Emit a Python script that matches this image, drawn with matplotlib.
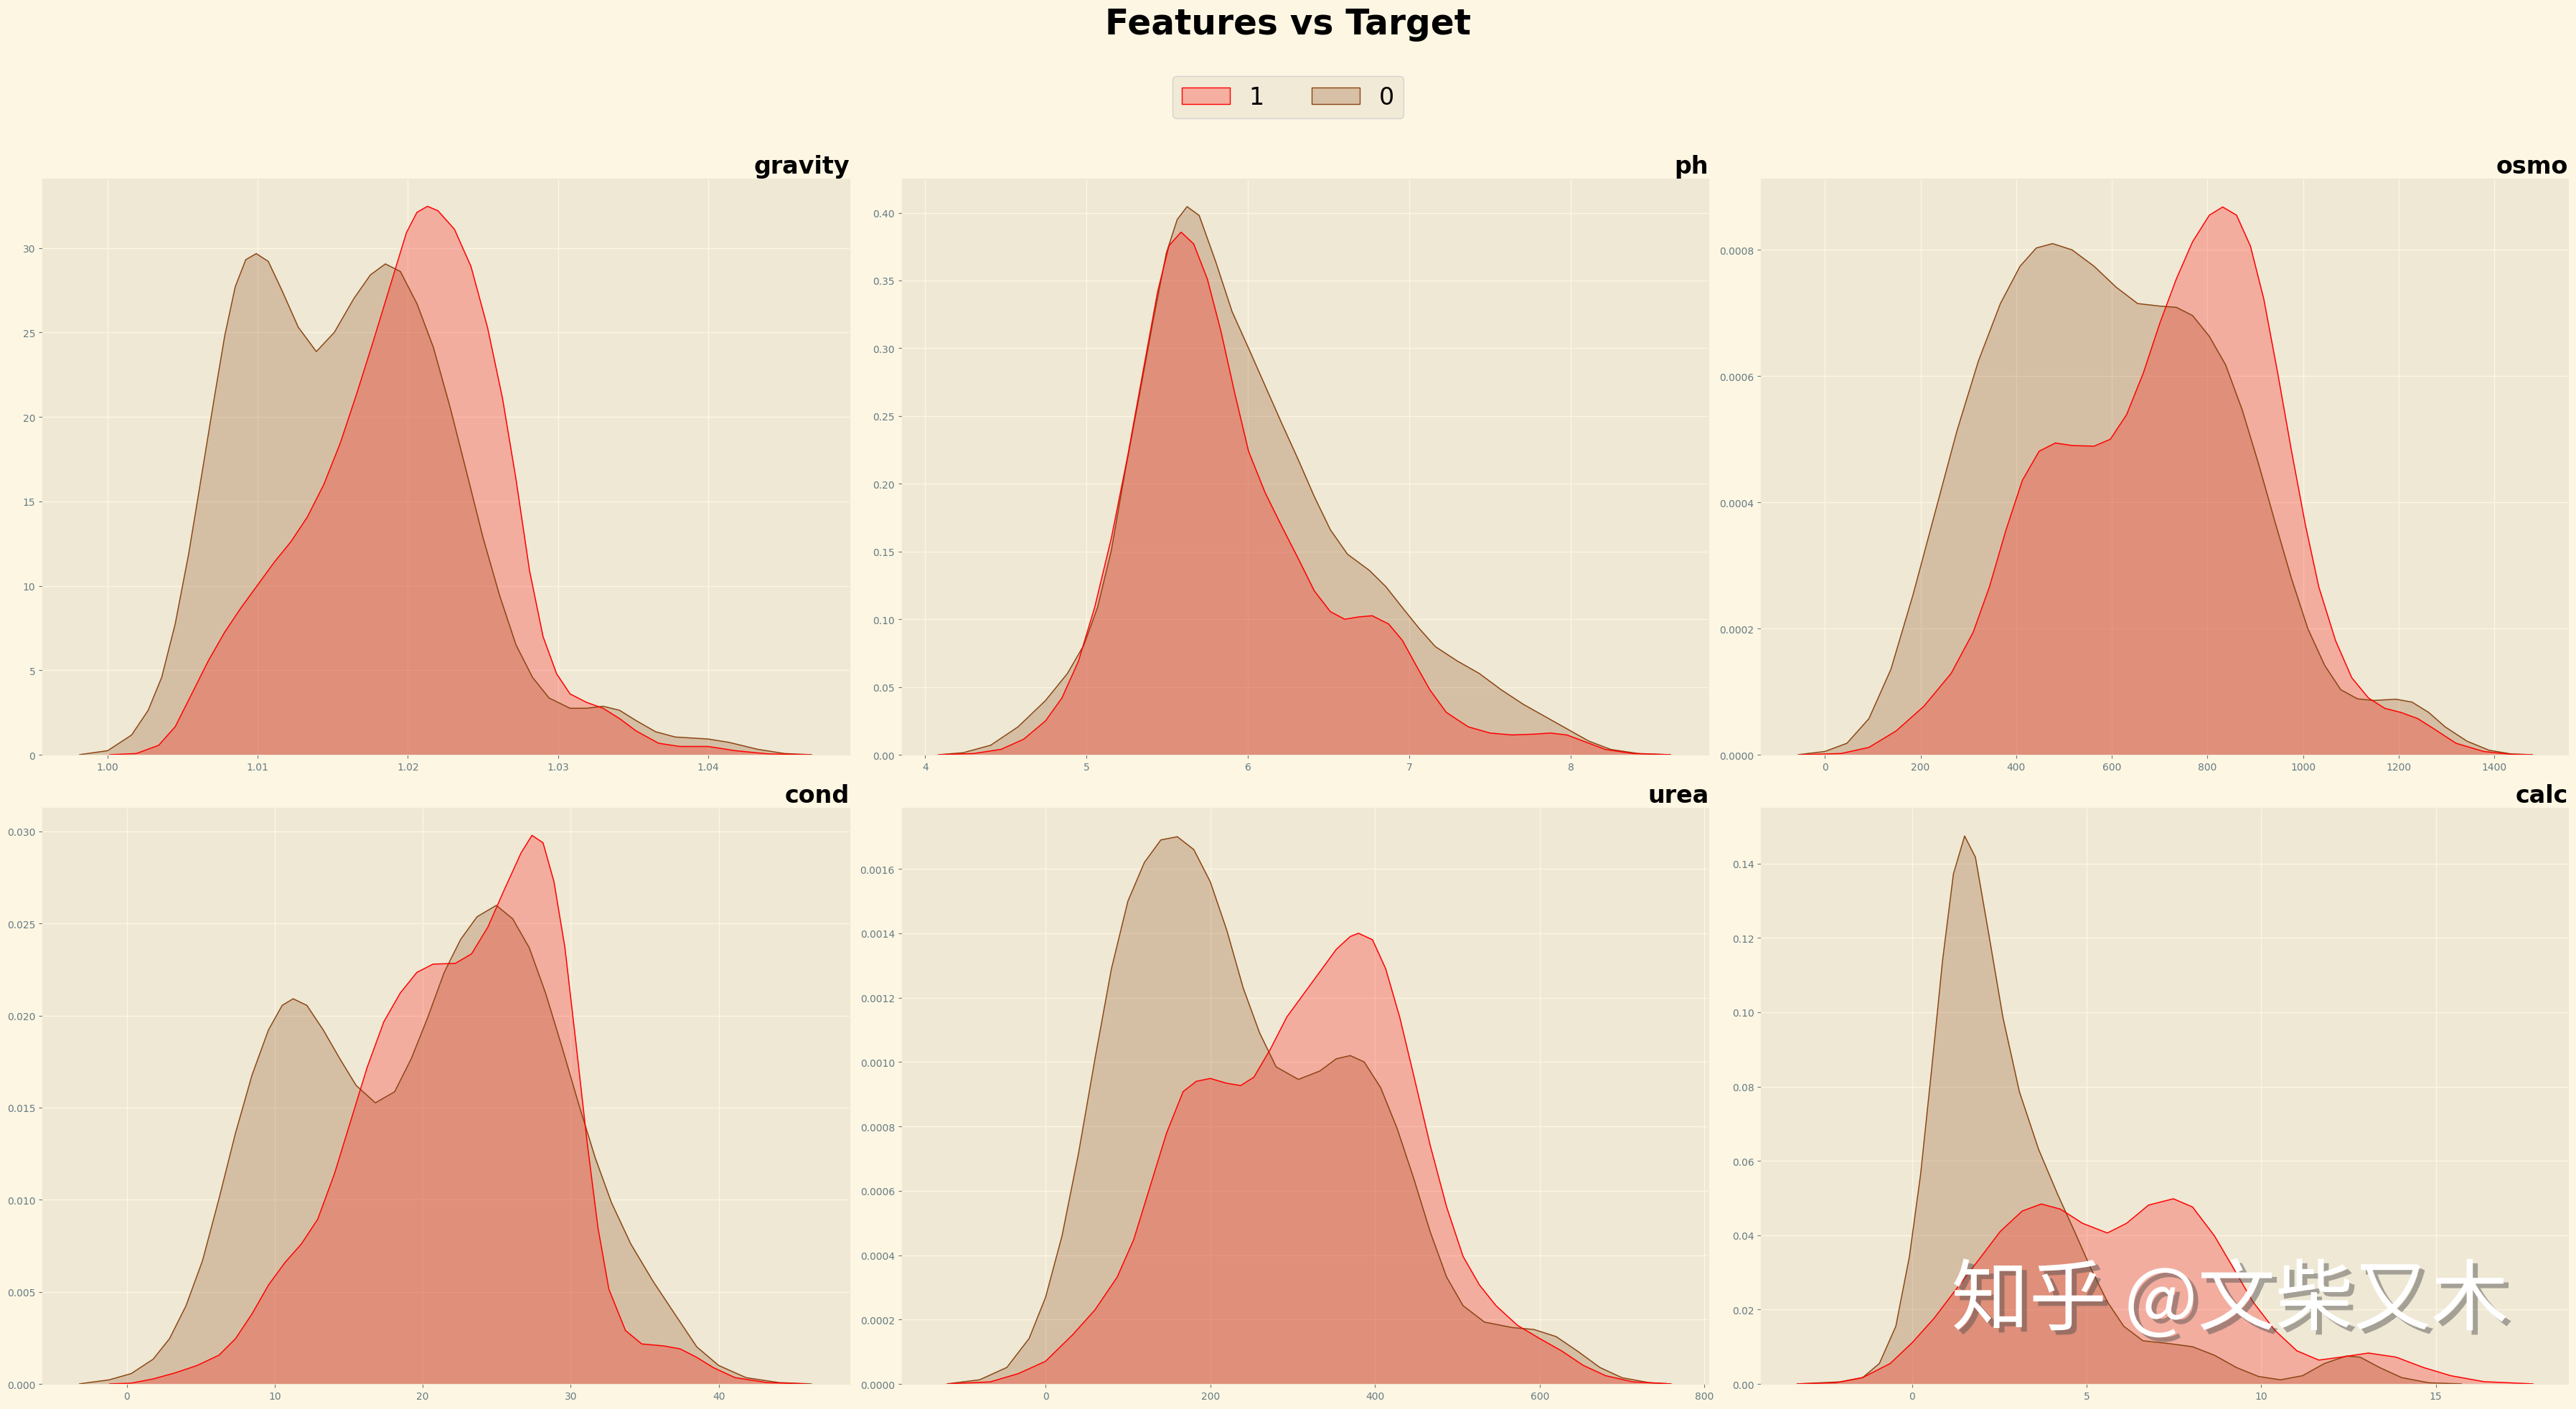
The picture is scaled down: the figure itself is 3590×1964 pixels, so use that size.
import matplotlib.pyplot as plt
from matplotlib import patheffects
from matplotlib.patches import Patch

plt.style.use('Solarize_Light2')

features = ['gravity', 'ph', 'osmo', 'cond', 'urea', 'calc']
labels = ['1', '0']

# density curves (class 0 = brown, class 1 = red)
gravity_x0 = [0.9981, 1.0000, 1.0016, 1.0027, 1.0036, 1.0045, 1.0054, 1.0063, 1.0071, 1.0078, 1.0085,
              1.0092, 1.0099, 1.0107, 1.0116, 1.0127, 1.0139, 1.0151, 1.0164, 1.0175, 1.0185, 1.0195,
              1.0206, 1.0217, 1.0228, 1.0239, 1.0250, 1.0261, 1.0272, 1.0283, 1.0294, 1.0308, 1.0319,
              1.0330, 1.0341, 1.0352, 1.0365, 1.0378, 1.0400, 1.0414, 1.0433, 1.0451, 1.0469]
gravity_y0 = [0, 0.24, 1.17, 2.63, 4.58, 7.74, 11.9, 16.75, 21.1, 24.8, 27.7,
              29.3, 29.66, 29.2, 27.5, 25.3, 23.86, 25.0, 27.0, 28.4, 29.05, 28.6,
              26.7, 24.1, 20.6, 16.75, 12.86, 9.45, 6.5, 4.58, 3.36, 2.75, 2.75,
              2.87, 2.63, 2.02, 1.36, 1.05, 0.93, 0.73, 0.32, 0.07, 0]
gravity_x1 = [1.0001, 1.0019, 1.0034, 1.0045, 1.0056, 1.0067, 1.0078, 1.0089, 1.0100, 1.0111, 1.0122,
              1.0133, 1.0144, 1.0155, 1.0166, 1.0177, 1.0188, 1.0199, 1.0206, 1.0213, 1.0220, 1.0231,
              1.0242, 1.0253, 1.0263, 1.0272, 1.0281, 1.0290, 1.0299, 1.0308, 1.0319, 1.0330, 1.0341,
              1.0352, 1.0367, 1.0381, 1.0400, 1.0418, 1.0440, 1.0469]
gravity_y1 = [0, 0.07, 0.56, 1.66, 3.6, 5.55, 7.26, 8.72, 10.06, 11.4, 12.6,
              14.07, 16.0, 18.46, 21.4, 24.5, 27.7, 30.9, 32.1, 32.46, 32.2, 31.1,
              28.9, 25.3, 21.1, 16.3, 10.9, 7.0, 4.8, 3.6, 3.1, 2.75, 2.14,
              1.41, 0.68, 0.49, 0.49, 0.24, 0.05, 0]

ph_x0 = [4.08, 4.235, 4.405, 4.575, 4.745, 4.881, 4.983, 5.068, 5.153, 5.238, 5.323, 5.408, 5.493,
         5.561, 5.622, 5.697, 5.799, 5.901, 6.003, 6.105, 6.207, 6.31, 6.41, 6.51, 6.616, 6.752,
         6.854, 6.956, 7.058, 7.16, 7.296, 7.432, 7.568, 7.704, 7.84, 7.976, 8.112, 8.248, 8.418, 8.62]
ph_y0 = [0, 0.0015, 0.007, 0.0206, 0.040, 0.060, 0.081, 0.109, 0.151, 0.209, 0.263, 0.318, 0.370,
         0.395, 0.4045, 0.398, 0.364, 0.327, 0.300, 0.2725, 0.245, 0.218, 0.1906, 0.166, 0.148, 0.136,
         0.124, 0.1086, 0.0935, 0.0798, 0.0692, 0.060, 0.048, 0.0373, 0.0282, 0.0191, 0.010, 0.0039,
         0.0009, 0]
ph_x1 = [4.08, 4.30, 4.47, 4.61, 4.745, 4.847, 4.949, 5.05, 5.153, 5.255, 5.357, 5.44, 5.51, 5.585,
         5.663, 5.748, 5.833, 5.918, 6.003, 6.105, 6.207, 6.31, 6.41, 6.51, 6.599, 6.684, 6.769,
         6.871, 6.956, 7.041, 7.126, 7.228, 7.364, 7.5, 7.636, 7.772, 7.874, 7.976, 8.078, 8.214,
         8.384, 8.62]
ph_y1 = [0, 0.0009, 0.004, 0.0115, 0.025, 0.042, 0.069, 0.109, 0.160, 0.221, 0.288, 0.342, 0.3757,
         0.3857, 0.377, 0.351, 0.312, 0.2665, 0.224, 0.1936, 0.169, 0.145, 0.121, 0.1056, 0.100,
         0.1017, 0.1026, 0.0965, 0.0844, 0.066, 0.048, 0.0313, 0.0206, 0.016, 0.0146, 0.0152, 0.016,
         0.0146, 0.010, 0.0039, 0.0009, 0]

osmo_x0 = [-57, 0, 46, 92, 138, 184, 230, 276, 321, 367, 408, 442, 476, 517, 563, 609, 654, 700,
           735, 769, 804, 838, 873, 907, 941, 976, 1010, 1045, 1079, 1114, 1148, 1194, 1228, 1263,
           1297, 1343, 1389, 1435, 1481]
osmo_y0 = [0, 0.0000052, 0.0000182, 0.0000573, 0.0001355, 0.000253, 0.000383, 0.000513, 0.000624,
           0.000715, 0.000774, 0.000803, 0.00081, 0.0008, 0.000774, 0.000741, 0.000715, 0.000711,
           0.000709, 0.000696, 0.000663, 0.000618, 0.000546, 0.000461, 0.00037, 0.000279, 0.0002,
           0.000142, 0.000103, 0.0000886, 0.000086, 0.000088, 0.0000834, 0.000067, 0.0000443,
           0.0000215, 0.0000072, 0.0000013, 0]
osmo_x1 = [-52, 34, 92, 149, 207, 264, 310, 344, 379, 413, 448, 482, 517, 563, 597, 631, 666, 700,
           735, 769, 804, 832, 861, 890, 918, 947, 976, 1005, 1033, 1068, 1102, 1137, 1171, 1205,
           1240, 1274, 1320, 1378, 1435, 1481]
osmo_y1 = [0, 0.000002, 0.0000117, 0.0000378, 0.0000769, 0.000129, 0.000194, 0.000266, 0.000357,
           0.000435, 0.000481, 0.000494, 0.00049, 0.000489, 0.0005, 0.000539, 0.000605, 0.000683,
           0.000754, 0.000813, 0.000855, 0.000868, 0.000855, 0.000806, 0.000722, 0.000605, 0.000481,
           0.000364, 0.000266, 0.000181, 0.000122, 0.0000899, 0.0000736, 0.000067, 0.0000573,
           0.000041, 0.0000182, 0.0000052, 0.0000007, 0]

cond_x0 = [-3.23, -1.19, 0.30, 1.78, 2.89, 4.0, 5.12, 6.23, 7.35, 8.46, 9.57, 10.5, 11.24, 12.17,
           13.28, 14.4, 15.5, 16.8, 18.1, 19.22, 20.33, 21.45, 22.56, 23.67, 24.97, 26.08, 27.2,
           28.3, 29.4, 30.54, 31.65, 32.76, 34.06, 35.55, 37.03, 38.52, 40.0, 41.85, 44.08, 46.3]
cond_y0 = [0, 0.00022, 0.00056, 0.00134, 0.00246, 0.00424, 0.0067, 0.01005, 0.01363, 0.01676,
           0.01921, 0.02055, 0.02091, 0.02055, 0.01921, 0.01765, 0.0162, 0.01526, 0.01586, 0.01765,
           0.01988, 0.02234, 0.02413, 0.02536, 0.02598, 0.02525, 0.02368, 0.02122, 0.01832, 0.01519,
           0.01229, 0.00983, 0.0076, 0.00559, 0.0038, 0.00201, 0.001, 0.00034, 0.00007, 0]
cond_x1 = [-1.19, 0.3, 1.78, 3.27, 4.75, 6.23, 7.35, 8.46, 9.57, 10.69, 11.8, 12.9, 14.03, 15.14,
           16.25, 17.37, 18.48, 19.6, 20.7, 22.2, 23.3, 24.4, 25.5, 26.64, 27.38, 28.13, 28.87,
           29.61, 30.35, 31.1, 31.84, 32.58, 33.7, 34.8, 36.3, 37.4, 38.5, 39.63, 41.1, 43.3, 45.9]
cond_y1 = [0, 0.00004, 0.00027, 0.0006, 0.001, 0.00156, 0.00246, 0.0038, 0.00536, 0.00659, 0.0076,
           0.00894, 0.0114, 0.0143, 0.0172, 0.01966, 0.02122, 0.02234, 0.02279, 0.02283, 0.02335,
           0.0248, 0.02681, 0.02882, 0.02978, 0.02938, 0.02726, 0.02368, 0.01854, 0.01318, 0.00849,
           0.00514, 0.0029, 0.00217, 0.00206, 0.0019, 0.00145, 0.00089, 0.00034, 0.00007, 0]

urea_x0 = [-120, -80, -47, -20, 0, 20, 40, 60, 80, 100, 120, 140, 160, 180, 200, 220, 240, 260,
           280, 307, 333, 353, 370, 387, 407, 427, 447, 467, 487, 507, 533, 567, 593, 620, 647,
           673, 700, 733, 760]
urea_y0 = [0, 0.0000128, 0.0000512, 0.000141, 0.000269, 0.00046, 0.000716, 0.00101, 0.00129,
           0.0015, 0.00162, 0.00169, 0.0017, 0.00166, 0.00156, 0.00141, 0.00123, 0.00109, 0.000985,
           0.000946, 0.000972, 0.00101, 0.00102, 0.001, 0.00092, 0.000793, 0.000639, 0.000473,
           0.000332, 0.000243, 0.000192, 0.000175, 0.000169, 0.000147, 0.0001, 0.0000512,
           0.0000192, 0.0000038, 0]
urea_x1 = [-120, -67, -33, 0, 33, 60, 87, 107, 127, 147, 167, 183, 200, 220, 237, 253, 273, 293,
           313, 333, 353, 370, 380, 397, 413, 430, 447, 467, 487, 507, 527, 547, 573, 600, 627,
           653, 680, 713, 760]
urea_y1 = [0, 0.0000064, 0.000032, 0.0000703, 0.000153, 0.00023, 0.000332, 0.000448, 0.000614,
           0.00078, 0.000908, 0.00094, 0.000949, 0.000934, 0.000927, 0.000953, 0.00104, 0.00114,
           0.00121, 0.00128, 0.00135, 0.00139, 0.0014, 0.00138, 0.00129, 0.00114, 0.000959,
           0.000742, 0.00055, 0.000396, 0.000307, 0.000243, 0.000182, 0.000141, 0.000102,
           0.0000575, 0.0000256, 0.0000064, 0]

calc_x0 = [-3.31, -2.05, -1.42, -0.94, -0.47, -0.08, 0.24, 0.55, 0.87, 1.18, 1.5, 1.81, 2.2, 2.6,
           3.07, 3.62, 4.17, 4.65, 5.12, 5.59, 6.06, 6.61, 7.4, 8.03, 8.66, 9.29, 9.92, 10.55,
           11.18, 11.81, 12.44, 12.83, 13.39, 14.02, 14.8, 15.75]
calc_y0 = [0, 0.00055, 0.0017, 0.0055, 0.0155, 0.0343, 0.0564, 0.0841, 0.114, 0.1372, 0.1474,
           0.1417, 0.1206, 0.0985, 0.0786, 0.0631, 0.0509, 0.041, 0.031, 0.0221, 0.0155, 0.0116,
           0.0108, 0.01, 0.0077, 0.0044, 0.002, 0.0011, 0.0022, 0.0055, 0.0075, 0.0072, 0.0044,
           0.0017, 0.0003, 0]
calc_x1 = [-3.31, -2.2, -1.42, -0.63, 0, 0.63, 1.26, 1.89, 2.52, 3.15, 3.7, 4.25, 4.88, 5.59,
           6.14, 6.77, 7.48, 8.03, 8.66, 9.21, 9.76, 10.39, 11.02, 11.65, 12.28, 13.07, 13.86,
           14.65, 15.43, 16.38, 17.8]
calc_y1 = [0, 0.0003, 0.0017, 0.0055, 0.0111, 0.0177, 0.0255, 0.0332, 0.041, 0.0465, 0.0484,
           0.047, 0.0432, 0.0406, 0.0432, 0.0481, 0.0498, 0.0476, 0.0398, 0.031, 0.0221, 0.0144,
           0.0089, 0.0064, 0.0072, 0.0083, 0.0072, 0.0044, 0.0022, 0.0006, 0]

curves = {
    'gravity': (gravity_x0, gravity_y0, gravity_x1, gravity_y1),
    'ph': (ph_x0, ph_y0, ph_x1, ph_y1),
    'osmo': (osmo_x0, osmo_y0, osmo_x1, osmo_y1),
    'cond': (cond_x0, cond_y0, cond_x1, cond_y1),
    'urea': (urea_x0, urea_y0, urea_x1, urea_y1),
    'calc': (calc_x0, calc_y0, calc_x1, calc_y1),
}

limits = {
    'gravity': ((0.99565, 1.0494), (0, 34.1)),
    'ph': ((3.854, 8.854), (0, 0.4252)),
    'osmo': ((-133.6, 1554.5), (0, 0.000913)),
    'cond': ((-5.71, 48.83), (0, 0.03128)),
    'urea': ((-174.7, 805.3), (0, 0.00179)),
    'calc': ((-4.33, 18.79), (0, 0.155)),
}

c0 = 'saddlebrown'
c1 = 'red'

fig, axes = plt.subplots(2, 3, figsize=(35.9, 19.65), dpi=100)
fig.subplots_adjust(left=0.01643, right=0.99694, top=0.8728, bottom=0.01781,
                    wspace=0.0649, hspace=0.092)

for ax, name in zip(axes.flat, features):
    x0, y0, x1, y1 = curves[name]
    ax.fill_between(x0, y0, color=c0, alpha=0.25, lw=0)
    ax.plot(x0, y0, color=c0, lw=1.1)
    ax.fill_between(x1, y1, color=c1, alpha=0.25, lw=0)
    ax.plot(x1, y1, color=c1, lw=1.1)
    ax.set_xlim(*limits[name][0])
    ax.set_ylim(*limits[name][1])
    ax.tick_params(labelsize=10)
    ax.set_title(name, loc='right', fontsize=24, fontweight='bold', color='black')

handles = [Patch(facecolor=c1, edgecolor=c1, alpha=0.25),
           Patch(facecolor=c0, edgecolor=c0, alpha=0.25)]
# make the legend patch edges opaque
handles[0] = Patch(facecolor=(1, 0, 0, 0.25), edgecolor=c1)
handles[1] = Patch(facecolor=(0.545, 0.271, 0.075, 0.25), edgecolor=c0)
fig.legend(handles, labels, loc='center', bbox_to_anchor=(0.5, 0.9305), ncol=2,
           fontsize=24, labelcolor='black')

fig.suptitle('Features vs Target', fontsize=35, fontweight='bold', color='black',
             y=0.995, va='top')

wm = fig.text(0.8657, 0.0758, '知乎 @文柴又木', fontsize=78, color='white',
              ha='center', va='center', family=['Noto Sans CJK SC', 'DejaVu Sans'])
wm.set_path_effects([patheffects.withSimplePatchShadow(offset=(5, -4.5),
                                                        shadow_rgbFace='#4a4a4a', alpha=0.45)])

fig.savefig('out.png', dpi=100)
